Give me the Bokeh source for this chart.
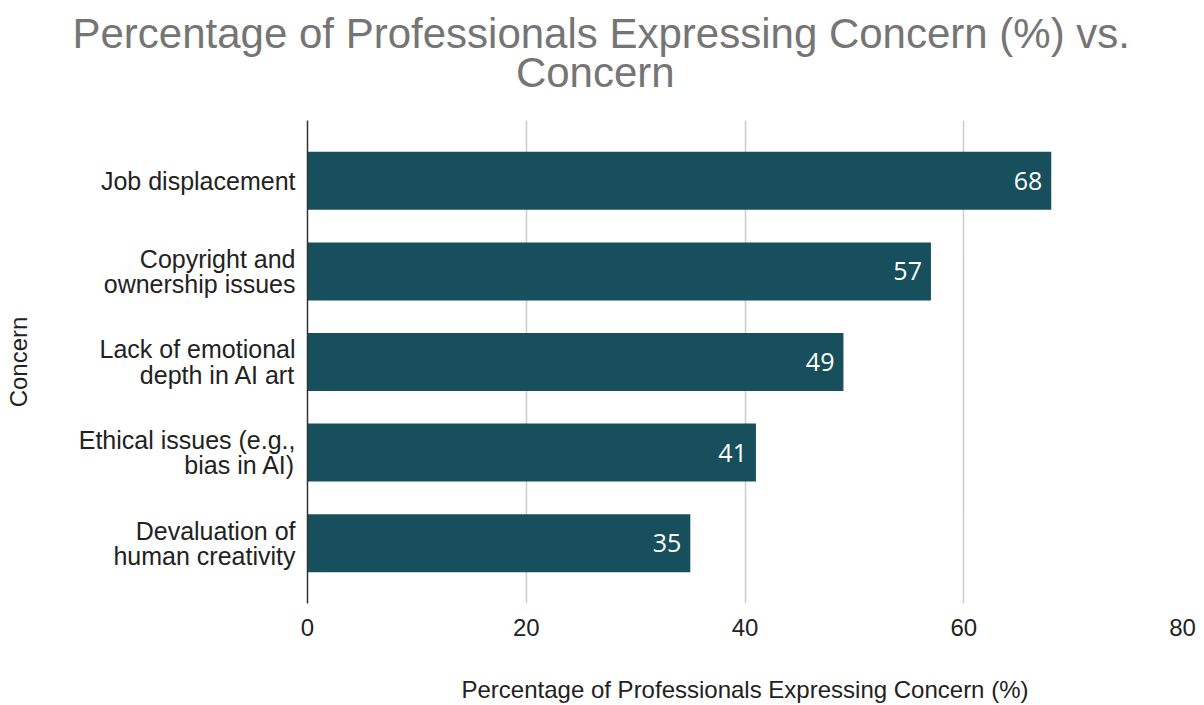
from bokeh.plotting import figure
from bokeh.models import FactorRange, Range1d, FixedTicker, Title, ColumnDataSource
from bokeh.core.properties import value
from bokeh.embed import file_html
from bokeh.resources import INLINE

concerns = [
    "Job displacement",
    "Copyright and\nownership issues",
    "Lack of emotional\ndepth in AI art",
    "Ethical issues (e.g.,\nbias in AI)",
    "Devaluation of\nhuman creativity",
]
percentages = [68, 57, 49, 41, 35]
x_ticks = [0, 20, 40, 60, 80]

title_line1 = "Percentage of Professionals Expressing Concern (%) vs."
title_line2 = "Concern"
x_title = "Percentage of Professionals Expressing Concern (%)"
y_title = "Concern"

BAR = "#174f5c"
FONT = "Liberation Sans"
NBSP = "\u00a0"

src = ColumnDataSource(dict(c=concerns, v=percentages, t=[str(v) for v in percentages]))

yr = FactorRange(factors=list(reversed(concerns)), range_padding=0.165, range_padding_units="absolute")

p = figure(width=1204, height=705, y_range=yr, x_range=Range1d(0, 80), title=None,
           output_backend="svg", toolbar_location=None,
           min_border_left=307, min_border_right=22, min_border_top=120, min_border_bottom=100)
p.outline_line_color = None
p.background_fill_color = "white"

p.hbar(y="c", right="v", left=0, height=0.64, source=src, color=BAR, line_color=None)
p.text(x="v", y="c", text="t", source=src, x_offset=-9, text_align="right", text_baseline="middle",
       text_color="white", text_font=value("Open Sans"), text_font_size="25px")

p.xaxis.ticker = FixedTicker(ticks=x_ticks)
p.xaxis.axis_line_color = None
p.xaxis.major_tick_line_color = None
p.xaxis.major_tick_out = 0
p.xaxis.minor_tick_line_color = None
p.xaxis.major_label_text_font = FONT
p.xaxis.major_label_text_font_size = "24px"
p.xaxis.major_label_text_color = "#222222"
p.xaxis.major_label_standoff = 15
p.xaxis.axis_label = x_title
p.xaxis.axis_label_text_font = FONT
p.xaxis.axis_label_text_font_size = "24px"
p.xaxis.axis_label_text_font_style = "normal"
p.xaxis.axis_label_text_color = "#222222"
p.xaxis.axis_label_standoff = 37

p.yaxis.axis_line_color = "#333333"
p.yaxis.axis_line_width = 1.5
p.yaxis.major_tick_line_color = None
p.yaxis.major_tick_out = 0
p.yaxis.minor_tick_line_color = None
p.yaxis.major_label_text_font = FONT
p.yaxis.major_label_text_font_size = "25px"
p.yaxis.major_label_text_line_height = 0.9
p.yaxis.major_label_text_color = "#222222"
p.yaxis.major_label_standoff = 12
p.yaxis.axis_label = y_title
p.yaxis.axis_label_text_font = FONT
p.yaxis.axis_label_text_font_size = "24px"
p.yaxis.axis_label_text_font_style = "normal"
p.yaxis.axis_label_text_color = "#222222"
p.yaxis.axis_label_standoff = 44

p.ygrid.grid_line_color = None
p.xgrid.grid_line_color = "#cccccc"
p.xgrid.grid_line_width = 1.5

# small spacer between the frame and the title block
p.add_layout(Title(text=NBSP, text_font_size="20px", standoff=0), "above")
# two-line title: first line starts left of the frame, second line indented to sit centred under it
p.add_layout(Title(text=title_line1 + "\n" + NBSP * 38 + title_line2, align="left", offset=-235,
                   text_font=FONT, text_font_size="42px", text_font_style="normal",
                   text_color="#757575", text_line_height=0.83, standoff=0), "above")

open("out.html", "w").write(file_html(p, INLINE))
